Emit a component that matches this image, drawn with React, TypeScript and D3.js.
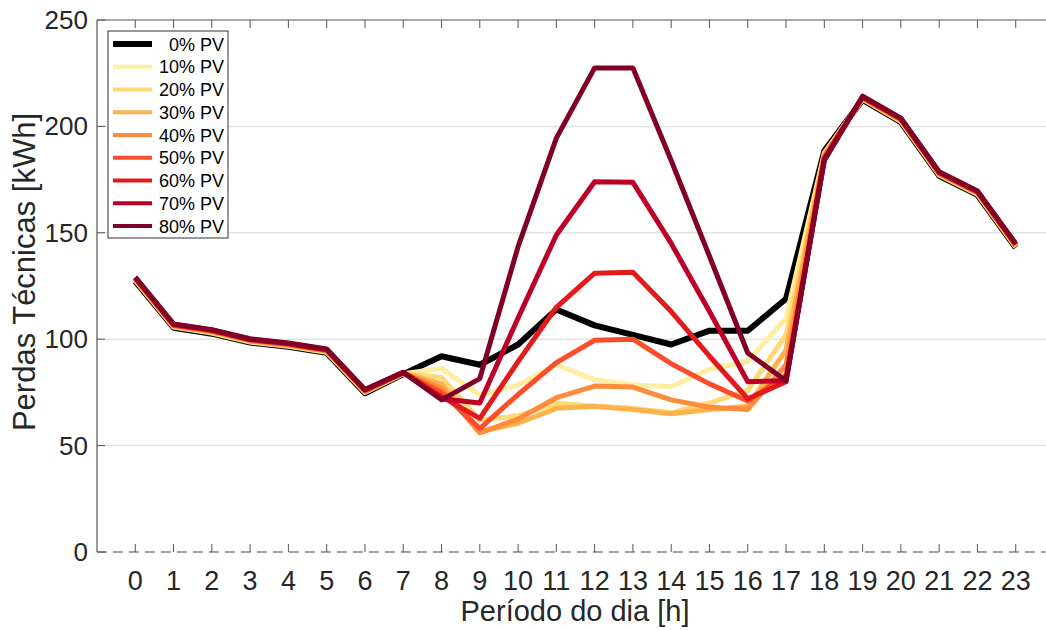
import React from 'react';
import * as d3 from 'd3';

// hours of the day
const hours = d3.range(0, 24);

// technical losses [kWh] per PV penetration level
const pv0 = [127.2, 105.4, 102.6, 98.4, 96.4, 93.6, 74.6, 83.6, 92, 88, 97.5, 114, 106.5, 102, 97.5, 104, 104, 119, 188.5, 212.5, 202, 176.8, 167.8, 143];
const pv10 = [127.6, 105.7, 102.9, 98.7, 96.7, 93.9, 74.9, 83.8, 86.3, 73.8, 78.5, 88, 81, 78.5, 77.7, 86, 89.5, 110, 187.5, 212.8, 202.3, 177.1, 168.1, 143.3];
const pv20 = [127.9, 106, 103.2, 99, 97, 94.2, 75.2, 83.9, 82, 62, 64, 70, 68.5, 67.5, 65.5, 70, 76, 102, 187, 213, 202.6, 177.4, 168.4, 143.6];
const pv30 = [128.2, 106.2, 103.5, 99.2, 97.2, 94.4, 75.4, 84, 79, 56.5, 60.5, 67.5, 68.5, 67, 65, 67, 68.5, 95, 186.5, 213.2, 202.9, 177.7, 168.7, 143.9];
const pv40 = [128.4, 106.4, 103.7, 99.4, 97.4, 94.6, 75.6, 84.1, 77, 56, 62.5, 72.5, 78, 77.5, 71.5, 68, 67, 88, 186, 213.4, 203.1, 177.9, 168.9, 144.1];
const pv50 = [128.6, 106.6, 103.9, 99.6, 97.6, 94.8, 75.8, 84.2, 75, 58, 74, 89, 99.5, 100, 88.5, 79, 71, 83, 185.5, 213.6, 203.3, 178.1, 169.1, 144.3];
const pv60 = [128.8, 106.8, 104.1, 99.8, 97.8, 95, 76, 84.3, 73, 62.8, 89.5, 115, 131, 131.5, 113, 92, 72, 80, 185, 213.8, 203.5, 178.3, 169.3, 144.5];
const pv70 = [129, 107, 104.3, 100, 98, 95.2, 76.2, 84.4, 72, 70, 110, 149, 174, 173.7, 145, 113, 80, 80.5, 184.5, 214, 203.7, 178.5, 169.5, 144.7];
const pv80 = [129.2, 107.2, 104.5, 100.2, 98.2, 95.4, 76.4, 84.5, 71.5, 81.5, 143.5, 194.5, 227.5, 227.5, 184, 139, 93.5, 80.5, 184, 214.2, 203.9, 178.7, 169.7, 144.9];

const seriesNames = ['0% PV', '10% PV', '20% PV', '30% PV', '40% PV', '50% PV', '60% PV', '70% PV', '80% PV'];
const seriesValues = [pv0, pv10, pv20, pv30, pv40, pv50, pv60, pv70, pv80];
const seriesColors = ['#000000', '#ffeda0', '#fed976', '#feb24c', '#fd8d3c', '#fc4e2a', '#e31a1c', '#bd0026', '#800026'];

const yTicks = [0, 50, 100, 150, 200, 250];

const W = 1046, H = 630;
const left = 97, top = 20, right = 1054, bottom = 552;

export default function App() {
  const x = d3.scaleLinear().domain([-1, 24]).range([left, right]);
  const y = d3.scaleLinear().domain([0, 250]).range([bottom, top]);

  const line = d3.line<number>()
    .x((d, i) => x(hours[i]))
    .y(d => y(d));

  const font = '"Liberation Sans", Arial, sans-serif';

  return (
    <svg width={W} height={H} style={{ position: 'absolute', left: 0, top: 0, background: '#fff' }}
      fontFamily={font}>
      {/* grid */}
      {yTicks.filter(t => t > 0 && t < 250).map(t => (
        <line key={'g' + t} x1={left} x2={right} y1={y(t)} y2={y(t)} stroke="#e3e3e3" strokeWidth={1.5} />
      ))}

      {/* frame */}
      <line x1={left} x2={right} y1={top} y2={top} stroke="#555" strokeWidth={1.2} />
      <line x1={left} x2={left} y1={top} y2={bottom} stroke="#555" strokeWidth={1.2} />
      <line x1={left} x2={right} y1={bottom} y2={bottom} stroke="#444" strokeWidth={1.2} strokeDasharray="10,6" />

      {/* x ticks */}
      {hours.map(h => (
        <g key={'x' + h}>
          <line x1={x(h)} x2={x(h)} y1={bottom} y2={bottom - 8} stroke="#555" />
          <line x1={x(h)} x2={x(h)} y1={top} y2={top + 8} stroke="#555" />
          <text x={x(h)} y={590} textAnchor="middle" fontSize={27} fill="#262626">{h}</text>
        </g>
      ))}

      {/* y ticks */}
      {yTicks.map(t => (
        <g key={'y' + t}>
          <line x1={left} x2={left + 8} y1={y(t)} y2={y(t)} stroke="#555" />
          <text x={88} y={y(t) + 9} textAnchor="end" fontSize={26} fill="#262626">{t}</text>
        </g>
      ))}

      {/* lines */}
      {seriesValues.map((vals, i) => (
        <path key={seriesNames[i]} d={line(vals) || ''} fill="none" stroke={seriesColors[i]}
          strokeWidth={i === 0 ? 6 : 5} strokeLinejoin="round" />
      ))}

      {/* axis labels */}
      <text x={575} y={621} textAnchor="middle" fontSize={29} fill="#262626">Período do dia [h]</text>
      <text transform={`translate(35,${272}) rotate(-90)`} textAnchor="middle" fontSize={31} fill="#262626">
        Perdas Técnicas [kWh]
      </text>

      {/* legend */}
      <rect x={108} y={31} width={120} height={207} fill="#fff" stroke="#333" strokeWidth={1} />
      {seriesNames.map((name, i) => {
        const ly = 44 + i * 22.75;
        return (
          <g key={'l' + name}>
            <line x1={113} x2={152} y1={ly} y2={ly} stroke={seriesColors[i]} strokeWidth={i === 0 ? 6 : 4} />
            <text x={224} y={ly + 6.5} textAnchor="end" fontSize={18} fill="#000">{name}</text>
          </g>
        );
      })}
    </svg>
  );
}
